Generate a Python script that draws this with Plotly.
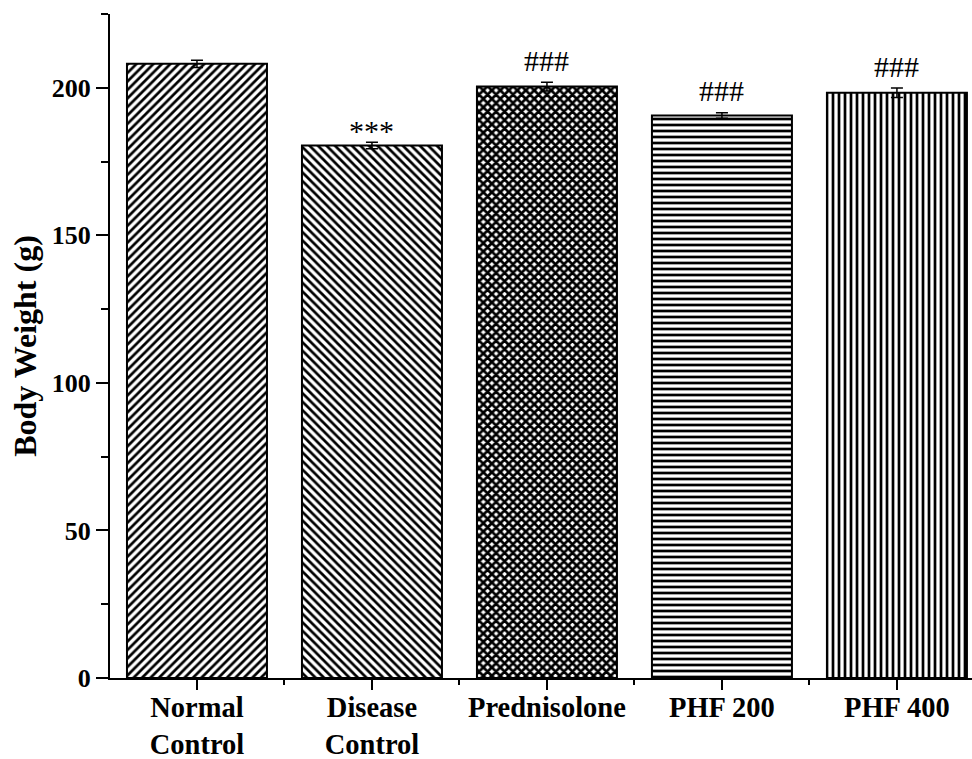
import plotly.graph_objects as go

categories = ["Normal<br>Control", "Disease<br>Control", "Prednisolone", "PHF 200", "PHF 400"]
values = [208.1, 180.4, 200.4, 190.6, 198.3]
errors = [1.2, 1.1, 1.5, 0.9, 1.6]
marks = ["", "***", "###", "###", "###"]
patterns = ["/", "\\", "x", "-", "|"]
pattern_sizes = [6, 6, 6, 6, 6]
pattern_solidity = [0.45, 0.45, 0.7, 0.45, 0.45]
yticks = [0, 50, 100, 150, 200]

xs = list(range(len(categories)))
FONT = "Liberation Serif"

fig = go.Figure()
fig.add_trace(go.Bar(
    x=xs, y=values, width=0.8,
    marker=dict(color="white", line=dict(color="black", width=2),
                pattern=dict(shape=patterns, size=pattern_sizes, solidity=pattern_solidity,
                             fgcolor="black", bgcolor="white", fgopacity=1,
                             fillmode="replace")),
    error_y=dict(type="data", array=errors, visible=True, color="black",
                 thickness=1.5, width=6),
    showlegend=False,
))

for x, v, e, m in zip(xs, values, errors, marks):
    if m:
        fig.add_annotation(x=x, y=v + e, xref="x", yref="y", text=m, showarrow=False,
                           yanchor="middle", yshift=22 if m == "###" else 12,
                           font=dict(family=FONT, size=30, color="black"))

fig.update_layout(
    width=972, height=759,
    margin=dict(l=110, r=0, t=14, b=81),
    paper_bgcolor="white", plot_bgcolor="white",
    font=dict(family=FONT, color="black"),
)
fig.update_xaxes(
    range=[-0.497, 4.429], tickmode="array", tickvals=xs, ticktext=categories,
    tickfont=dict(family=FONT, size=28.5, color="black", weight="bold"),
    ticks="outside", ticklen=10, tickwidth=2, tickcolor="black",
    ticklabelstandoff=-7,
    showline=True, linewidth=2, linecolor="black", showgrid=False, zeroline=False,
    automargin=False,
    minor=dict(tickmode="array", tickvals=[x + 0.5 for x in xs[:-1]] + [-0.5],
               ticks="outside", ticklen=5, tickwidth=2, tickcolor="black"),
)
fig.update_yaxes(
    range=[0, 225], tickmode="array", tickvals=yticks,
    tickfont=dict(family=FONT, size=26, color="black", weight="bold"),
    ticks="outside", ticklen=12, tickwidth=2, tickcolor="black",
    showline=True, linewidth=2, linecolor="black", showgrid=False, zeroline=False,
    automargin=False,
    minor=dict(tickmode="linear", tick0=0, dtick=25, ticks="outside", ticklen=7,
               tickwidth=2, tickcolor="black", showgrid=False),
    title=dict(text="Body Weight (g)", font=dict(family=FONT, size=32, color="black",
                                                 weight="bold"),
               standoff=6),
)

fig.write_html("out.html")
